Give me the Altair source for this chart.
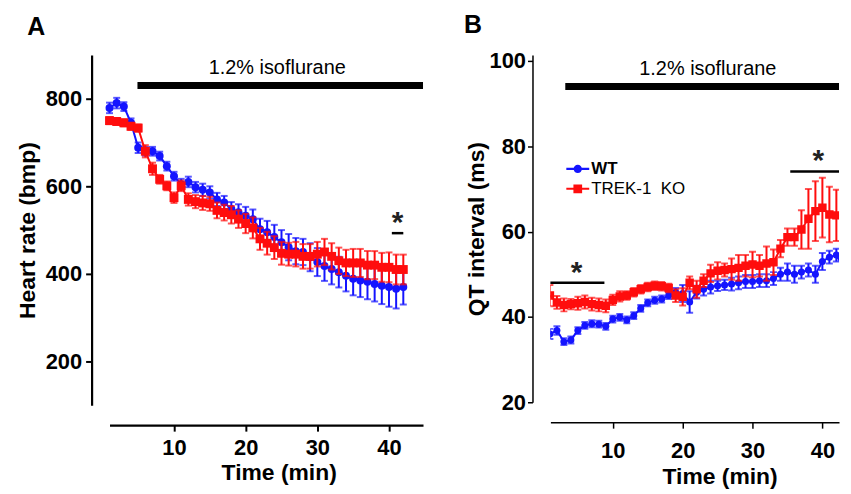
import altair as alt
import pandas as pd

SERIES = ["WT", "TREK-1\u00a0 KO"]
COLORS = ["#1414ff", "#ff0d0d"]

# ---------------- Panel A: heart rate ----------------
time_a = list(range(1, 43))
hr_wt = [779, 790, 782, 745, 688, 680, 680, 669, 646, 623,
         605, 610, 598, 592, 586, 570, 563, 548, 541, 533,
         525, 502, 495, 484, 472, 461, 452, 450, 438, 427,
         418, 411, 404, 396, 389, 385, 382, 377, 373, 370,
         366, 370]
hr_wt_err = [12, 12, 10, 10, 12, 10, 10, 10, 10, 10,
             12, 12, 12, 14, 14, 15, 15, 16, 18, 20,
             22, 24, 26, 28, 28, 30, 30, 30, 32, 32,
             34, 35, 35, 36, 38, 38, 40, 40, 42, 45,
             45, 40]
hr_ko = [750, 748, 745, 737, 733, 680, 640, 616, 601, 574,
         601, 570, 565, 562, 560, 545, 540, 535, 525, 515,
         505, 480, 470, 460, 447, 445, 445, 440, 440, 445,
         450, 440, 430, 425, 425, 425, 420, 420, 415, 415,
         410, 410]
hr_ko_err = [8, 8, 8, 8, 8, 14, 14, 10, 10, 12,
             12, 14, 15, 16, 16, 18, 18, 20, 20, 22,
             24, 25, 26, 26, 26, 26, 28, 28, 28, 28,
             30, 30, 30, 30, 32, 32, 32, 32, 33, 34,
             34, 34]

# ---------------- Panel B: QT interval ----------------
time_b = list(range(1, 44))
qt_wt = [36.0, 36.8, 34.2, 34.6, 36.8, 38.0, 38.4, 38.3, 37.8, 39.5,
         39.9, 39.3, 40.3, 42.0, 43.3, 43.9, 44.2, 45.0, 45.8, 45.5,
         43.5, 45.8, 46.5, 47.0, 47.3, 47.5, 47.7, 48.0, 48.3, 48.3,
         48.5, 48.5, 49.0, 50.0, 50.5, 50.0, 50.5, 51.0, 50.0, 53.0,
         54.0, 54.5, 51.5]
qt_wt_err = [1.2, 1.0, 0.8, 0.8, 0.8, 0.8, 0.8, 0.8, 0.8, 0.8,
             0.8, 0.8, 0.8, 0.8, 0.8, 0.8, 0.8, 0.8, 1.0, 2.0,
             2.5, 1.5, 1.5, 1.5, 1.2, 1.2, 1.5, 1.5, 1.5, 1.5,
             1.5, 1.5, 1.5, 1.5, 2.0, 2.0, 1.5, 1.5, 2.0, 2.0,
             1.5, 1.5, 1.5]
qt_ko = [45.0, 43.4, 42.8, 43.0, 43.2, 43.5, 43.0, 42.8, 42.6, 44.0,
         44.8, 45.0, 45.8, 46.5, 47.0, 47.3, 47.2, 46.8, 45.0, 44.7,
         48.0, 46.5, 48.5, 50.2, 50.8, 51.0, 51.2, 51.5, 52.0, 52.3,
         52.0, 52.5, 52.8, 56.0, 58.7, 58.7, 60.5, 63.0, 64.8, 65.6,
         64.0, 63.8, 63.8]
qt_ko_err = [2.5, 1.5, 1.5, 1.2, 1.5, 1.5, 1.5, 1.5, 1.5, 1.2,
             1.2, 1.0, 1.0, 1.0, 1.0, 1.0, 1.0, 1.0, 1.5, 2.0,
             1.5, 2.0, 1.5, 2.0, 2.0, 1.5, 2.5, 3.0, 2.5, 3.0,
             2.5, 4.0, 3.0, 2.0, 2.0, 2.0, 4.5, 7.0, 7.0, 7.0,
             6.5, 6.0, 6.0]

# annotations (data units)
ISO_LABEL = "1.2% isoflurane"
XEND_A = 44.75
XEND_B = 42.38
iso_a = {"x1": 4.9, "x2": XEND_A, "y": 830, "tx": 24.4, "ty": 869}
iso_b = {"x1": 3.2, "x2": XEND_B, "y": 94, "tx": 23.6, "ty": 98.1}
star_a = [{"x1": 40.4, "x2": 42.0, "y": 493, "sx": 41.2, "sy": 493}]
star_b = [{"x1": 0.95, "x2": 8.8, "y": 48.0, "sx": 4.8, "sy": 48.0},
          {"x1": 35.4, "x2": 43.2, "y": 74.1, "sx": 39.4, "sy": 74.1}]

FONT = "Liberation Sans"
PATH_C = ("M-1,-0.09L1,-0.09L1,0.09L-1,0.09Z"
          "M0.36,0A0.36,0.36,0,1,1,-0.36,0A0.36,0.36,0,1,1,0.36,0Z")
PATH_S = ("M-1,-0.09L1,-0.09L1,0.09L-1,0.09Z"
          "M-0.38,-0.38L0.38,-0.38L0.38,0.38L-0.38,0.38Z")


def make_df(t, v1, e1, v2, e2):
    rows = []
    for s, vals, errs in ((SERIES[0], v1, e1), (SERIES[1], v2, e2)):
        for ti, vi, ei in zip(t, vals, errs):
            rows.append({"t": ti, "v": vi, "lo": vi - ei, "hi": vi + ei, "series": s})
    return pd.DataFrame(rows)


def panel(df, xs, ys, xa, ya, csize, ssize, iso, stars, title, tdx, toff, legend=None, clip=False):
    X = lambda f: alt.X(f, type="quantitative", scale=xs, axis=xa)
    Y = lambda f: alt.Y(f, type="quantitative", scale=ys, axis=ya)
    layers = []
    if legend is not None:
        layers.append(
            alt.Chart(df).transform_filter("false")
            .mark_point(filled=True, opacity=1, strokeWidth=0)
            .encode(x=X("t"), y=Y("v"),
                    color=alt.Color("series:N", scale=alt.Scale(domain=SERIES, range=COLORS), legend=legend),
                    shape=alt.Shape("series:N", scale=alt.Scale(domain=SERIES, range=[PATH_C, PATH_S]), legend=legend))
        )
    for s, col, shp, sz in zip(SERIES, COLORS, ["circle", "square"], [csize, ssize]):
        base = alt.Chart(df).transform_filter(alt.datum.series == s)
        layers.append(base.mark_errorbar(ticks=True, size=7, thickness=2, color=col, clip=clip)
                      .encode(x=X("t"), y=Y("lo"), y2="hi:Q"))
        layers.append(base.mark_line(color=col, strokeWidth=2, clip=clip).encode(x=X("t"), y=Y("v")))
        layers.append(base.mark_point(shape=shp, filled=True, size=sz, color=col, opacity=1, clip=clip)
                      .encode(x=X("t"), y=Y("v")))
    iso_df = pd.DataFrame([iso])
    layers.append(alt.Chart(iso_df).mark_rule(strokeWidth=7, color="black", strokeCap="butt")
                  .encode(x=X("x1"), x2="x2:Q", y=Y("y")))
    layers.append(alt.Chart(iso_df).mark_text(font=FONT, fontSize=20, color="black", baseline="middle")
                  .encode(x=X("tx"), y=Y("ty"), text=alt.value(ISO_LABEL)))
    st_df = pd.DataFrame(stars)
    layers.append(alt.Chart(st_df).mark_rule(strokeWidth=2.5, color="black", clip=clip)
                  .encode(x=X("x1"), x2="x2:Q", y=Y("y")))
    layers.append(alt.Chart(st_df).mark_text(font=FONT, fontSize=30, fontWeight="bold", color="#222",
                                             baseline="alphabetic", dy=-1)
                  .encode(x=X("sx"), y=Y("sy"), text=alt.value("*")))
    return alt.layer(*layers).properties(
        title=alt.Title(title, anchor="start", frame="bounds", dx=tdx, offset=toff,
                        fontSize=25, font=FONT, fontWeight="bold", color="black", baseline="alphabetic")
    )


df_a = make_df(time_a, hr_wt, hr_wt_err, hr_ko, hr_ko_err)
df_b = make_df(time_b, qt_wt, qt_wt_err, qt_ko, qt_ko_err)

xs_a = alt.Scale(domain=[1, XEND_A], nice=False, zero=False)
ys_a = alt.Scale(domain=[100, 900], nice=False, zero=False)
xa_a = alt.Axis(values=[10, 20, 30, 40], title="Time (min)", offset=20, domainWidth=2.2, tickWidth=2,
                labelPadding=6, titlePadding=4, titleX=170)
ya_a = alt.Axis(values=[200, 400, 600, 800], title="Heart rate (bmp)", offset=18, domainWidth=2.2,
                tickWidth=2, labelPadding=4, titlePadding=6)

xs_b = alt.Scale(domain=[1.07, XEND_B], nice=False, zero=False)
ys_b = alt.Scale(domain=[20, 101.4], nice=False, zero=False)
xa_b = alt.Axis(values=[10, 20, 30, 40], title="Time (min)", offset=20, domainWidth=1.5, tickWidth=1.5,
                labelPadding=13, titlePadding=4, titleX=170)
ya_b = alt.Axis(values=[20, 40, 60, 80, 100], title="QT interval (ms)", offset=18, domainWidth=1.5,
                tickWidth=1.5, tickSize=5, labelPadding=2, titlePadding=1)

leg = alt.Legend(orient="none", legendX=16, legendY=103, title=None, symbolSize=529, symbolStrokeWidth=0,
                 symbolOpacity=1, labelFont=FONT, labelFontSize=17, labelColor="black",
                 labelFontWeight=alt.ExprRef("datum.label == 'WT' ? 'bold' : 'normal'"),
                 rowPadding=0, labelOffset=2, padding=0)

chart_a = panel(df_a, xs_a, ys_a, xa_a, ya_a, 64, 80, iso_a, star_a, "A", 11, -5).properties(width=315, height=352)
chart_b = panel(df_b, xs_b, ys_b, xa_b, ya_b, 50, 72, iso_b, star_b, "B", -1, -8,
                legend=leg, clip=True).properties(width=290, height=349)

chart = (
    alt.hconcat(chart_a, chart_b, spacing=128, bounds="flush")
    .resolve_scale(color="independent", shape="independent")
    .properties(padding={"left": 8, "top": 4, "right": 0, "bottom": 0})
    .configure_view(stroke=None)
    .configure_axis(domainColor="black", tickColor="black", tickSize=6, labelColor="black", labelFont=FONT,
                    labelFontWeight="bold", labelFontSize=22, titleFont=FONT, titleFontWeight="bold",
                    titleFontSize=23, titleColor="black", grid=False)
)

chart.save("out.html", embed_options={"renderer": "svg", "actions": False})
